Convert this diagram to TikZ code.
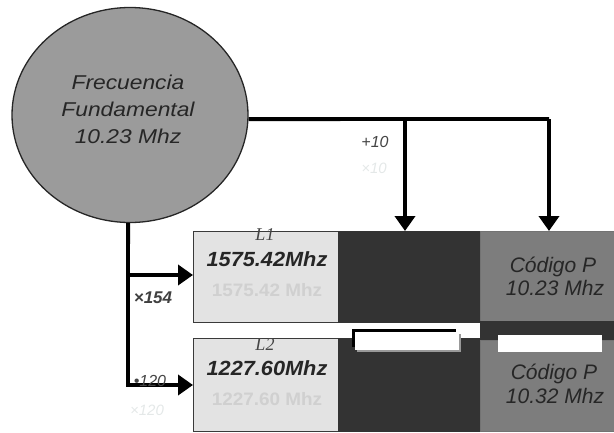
\documentclass[tikz,border=0pt]{standalone}
\usepackage{fontspec}
\setmainfont{Liberation Sans}
\newfontfamily\serifit{Liberation Serif}
\usetikzlibrary{shapes.geometric,arrows.meta}
\definecolor{circ}{HTML}{9B9B9B}
\definecolor{lightbox}{HTML}{E3E3E3}
\definecolor{darkbox}{HTML}{333333}
\definecolor{codebox}{HTML}{7D7D7D}
\definecolor{edge}{HTML}{3A3A3A}
\definecolor{txt}{HTML}{262626}
\definecolor{lbl}{HTML}{454545}
\definecolor{ghost}{HTML}{D0D0D0}
\definecolor{ghostlight}{HTML}{E4E8E8}
\begin{document}
\begin{tikzpicture}[x=1pt,y=-1pt,
  conn/.style={line width=3.8pt,black},
  arr/.style={conn,-{Triangle[length=15pt,width=20pt]}},
  boxbase/.style={rectangle,inner sep=0pt,anchor=north west,draw=edge,line width=1.3pt},
  lightcell/.style={boxbase,fill=lightbox,minimum width=145pt},
  darkcell/.style={boxbase,fill=darkbox,draw=black!80,minimum width=142pt},
  codecell/.style={boxbase,fill=codebox,draw=black!55,minimum width=145pt},
  txtline/.style={anchor=base,inner sep=0pt,text=txt},
  bigit/.style={txtline,font=\itshape\fontsize{21}{25}\selectfont},
  bignum/.style={txtline,font=\bfseries\itshape\fontsize{20.5}{24}\selectfont,xscale=1.06},
  ghosttxt/.style={txtline,text=ghost,font=\bfseries\fontsize{18}{22}\selectfont,xscale=1.05},
  lname/.style={txtline,text=lbl,font=\serifit\itshape\fontsize{18}{22}\selectfont}]
\useasboundingbox (0,0) rectangle (614,432);

% circle
\node[ellipse,draw=black!85,line width=1.3pt,fill=circ,minimum width=236pt,minimum height=215pt,inner sep=0pt] (ff) at (130,115) {};
\node[align=center,inner sep=0pt,text=txt,font=\itshape\fontsize{20}{27}\selectfont,xscale=1.14] (fftext) at (128,109) {Frecuencia\\Fundamental\\10.23 Mhz};

% row 1 boxes
\node[lightcell,minimum height=91pt] (l1) at (193,231) {};
\node[darkcell,minimum height=91pt] (d1) at (338,231) {};
\node[codecell,minimum height=90pt] (c1) at (480,231) {};
% strip between code boxes
\fill[darkbox] (480,321) rectangle (620,341);
% row 2 boxes
\node[lightcell,minimum height=93pt] (l2) at (193,338) {};
\node[darkcell,minimum height=93pt] (d2) at (338,338) {};
\node[codecell,minimum height=91pt] (c2) at (480,340) {};

% white patches
\fill[black] (352,329) rectangle (456,347);
\fill[black!40] (357,334) rectangle (461,352);
\fill[white] (355,332) rectangle (459,350);
\fill[white] (498,335) rectangle (602,352);

% texts in boxes
\node[lname] (l1name) at (265,240) {L1};
\node[bignum] (l1f) at (267,266) {1575.42Mhz};
\node[ghosttxt] (l1g) at (267,296) {1575.42 Mhz};
\node[lname] (l2name) at (265,350) {L2};
\node[bignum] (l2f) at (267,375) {1227.60Mhz};
\node[ghosttxt] (l2g) at (267,405) {1227.60 Mhz};

\node[bigit] (c1a) at (553,272) {Código P};
\node[bigit] (c1b) at (555,295) {10.23 Mhz};
\node[bigit] (c2a) at (554,379) {Código P};
\node[bigit] (c2b) at (555,403) {10.32 Mhz};

% connectors
\coordinate (j1) at (405,119);
\coordinate (j2) at (549,119);
\draw[conn] (ff.-2) -- (j2);
\draw[arr] (j1) -- (j1 |- l1.north);
\draw[arr] (j2) -- (j2 |- c1.north);

\coordinate (k1) at (128,275);
\coordinate (k2) at (128,385);
\draw[conn] (ff.-91) -- ([yshift=-1.9pt]k2);
\draw[arr] ([xshift=-1.9pt]k1) -- (k1 -| l1.west);
\draw[arr] ([xshift=-1.9pt]k2) -- (k2 -| l2.west);

% labels
\node[txtline,text=lbl,font=\itshape\fontsize{16}{19}\selectfont] (lab10) at (375,147) {+10};
\node[txtline,text=ghostlight,font=\itshape\fontsize{15}{18}\selectfont] (lab10g) at (374,173) {×10};
\node[txtline,text=black!75,font=\bfseries\itshape\fontsize{17}{20}\selectfont] (lab154) at (153,303) {×154};
\node[txtline,text=lbl,font=\itshape\fontsize{16}{19}\selectfont] (lab120) at (150,386) {•120};
\node[txtline,text=ghostlight,font=\itshape\fontsize{15}{18}\selectfont] (lab120g) at (147,415) {×120};
\end{tikzpicture}
\end{document}
